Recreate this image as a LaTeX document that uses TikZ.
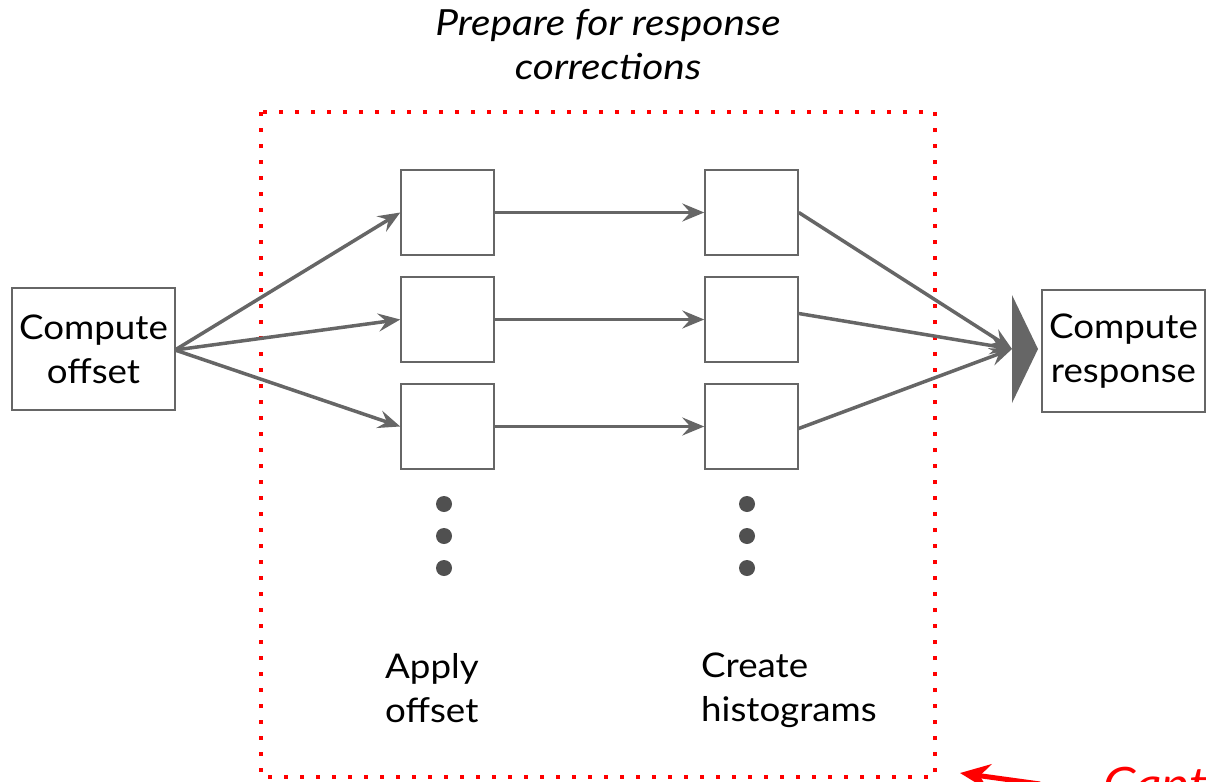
\documentclass[tikz,border=0pt]{standalone}
\usepackage{fontspec}
\setmainfont{Lato}[FakeStretch=1.08,ItalicFeatures={FakeStretch=1.13}]
\usetikzlibrary{arrows.meta}
\definecolor{lg}{HTML}{666666}
\definecolor{dg}{HTML}{505050}
\begin{document}
\begin{tikzpicture}[x=1pt,y=-1pt,
  box/.style={draw=lg,line width=1.5pt,fill=white,inner sep=0pt},
  conn/.style={draw=lg,line width=3.5pt,-{Stealth[length=22pt,width=18pt,inset=8pt]}},
  lbl/.style={font=\fontsize{34}{44}\selectfont,align=left,anchor=north west,inner sep=0pt},
  blob/.style={circle,fill=dg,minimum size=16pt,inner sep=0pt}]
\useasboundingbox (0,0) rectangle (1206,781);
\clip (0,0) rectangle (1206,781);
% dotted frame
\draw[red,line width=4pt,dash pattern=on 4pt off 12pt] (261,112) rectangle (935,777);
% title
\node[font=\itshape\fontsize{36}{44}\selectfont,align=center] (title) at (608,45) {Prepare for response\\corrections};
% side boxes
\node[box,minimum width=163pt,minimum height=122pt,font=\fontsize{34}{44}\selectfont,align=center] (off) at (93.5,349) {Compute\\offset};
\node[box,minimum width=163pt,minimum height=122pt,font=\fontsize{34}{44}\selectfont,align=center] (resp) at (1123.5,351) {Compute\\response};
% inner boxes
\foreach \i/\y in {1/212.5,2/319.5,3/426.5}{
  \node[box,minimum width=93pt,minimum height=85pt] (a\i) at (447.5,\y) {};
  \node[box,minimum width=93pt,minimum height=85pt] (h\i) at (751.5,\y) {};
}
% triangle
\coordinate (t1) at (1012,295);
\coordinate (t2) at (1012,403);
\coordinate (tip) at (1038,349);
\coordinate (tin) at (1012,349);
\fill[lg] (t1) -- (tip) -- (t2) -- cycle;
% arrows
\coordinate (o) at (175,350);
\draw[conn] (o) -- (a1.west);
\draw[conn] (o) -- (a2.west);
\draw[conn] (o) -- (a3.west);
\foreach \i in {1,2,3}{\draw[conn] (a\i.east) -- (h\i.west);}
\draw[conn] ([yshift=0pt]h1.east) -- (tin);
\draw[conn] ([yshift=6pt]h2.east) -- (tin);
\draw[conn] ([yshift=-2pt]h3.east) -- (tin);
% dots
\foreach \y [count=\k] in {504,536,568}{
  \node[blob] (da\k) at (444,\y) {};
  \node[blob] (dh\k) at (747,\y) {};
}
% labels
\node[lbl] (la) at (385,653) {Apply\\offset};
\node[lbl] (lh) at (701,653) {Create\\histograms};
% caption arrow
\coordinate (ce) at (1040,784);
\coordinate (cs) at (960,773);
\draw[red,line width=5pt,-{Stealth[length=30pt,width=26pt,inset=10pt]}] (ce) -- (cs);
\node[red,font=\itshape\fontsize{46}{50}\selectfont,anchor=base west,inner sep=0pt] (cap) at (1103,800) {Caption};
\end{tikzpicture}
\end{document}
